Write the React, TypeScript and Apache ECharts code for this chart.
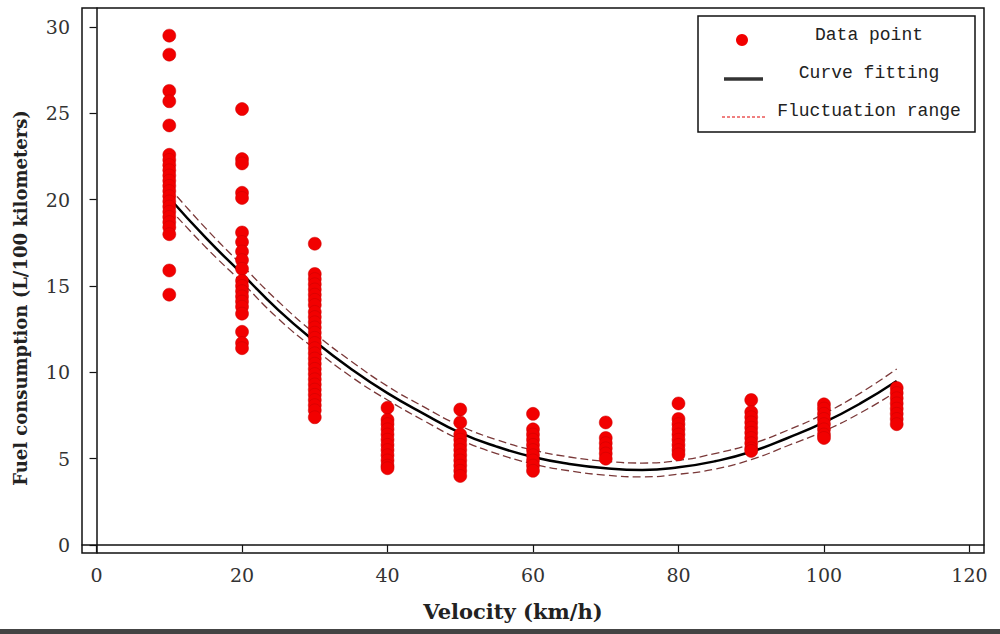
import React, { useEffect, useRef } from "react";
import * as echarts from "echarts";

// Measured speeds (km/h) and the fuel readings taken at each speed
const speeds = [10, 20, 30, 40, 50, 60, 70, 80, 90, 100, 110];

const fuel10 = [29.5, 28.4, 26.3, 25.7, 24.3, 22.6, 22.3, 22.0, 21.7, 21.4, 21.1, 20.8, 20.5, 20.2, 19.9, 19.6, 19.3, 19.0, 18.7, 18.4, 18.0, 15.9, 14.5];
const fuel20 = [25.25, 22.35, 22.1, 20.4, 20.1, 18.1, 17.55, 17.0, 16.5, 16.0, 15.3, 15.0, 14.7, 14.4, 14.1, 13.8, 13.4, 12.35, 11.7, 11.4];
const fuel30 = [17.45, 15.7, 15.4, 15.1, 14.8, 14.5, 14.2, 13.9, 13.5, 13.2, 12.9, 12.6, 12.3, 12.0, 11.7, 11.4, 11.1, 10.8, 10.5, 10.2, 9.9, 9.6, 9.3, 9.0, 8.7, 8.4, 8.1, 7.8, 7.4];
const fuel40 = [7.95, 7.25, 7.0, 6.7, 6.4, 6.1, 5.8, 5.5, 5.2, 4.9, 4.6, 4.45];
const fuel50 = [7.85, 7.1, 6.4, 6.1, 5.8, 5.5, 5.2, 4.9, 4.6, 4.3, 4.0];
const fuel60 = [7.6, 6.7, 6.4, 6.1, 5.8, 5.5, 5.2, 4.9, 4.6, 4.3];
const fuel70 = [7.1, 6.2, 5.9, 5.6, 5.3, 5.0];
const fuel80 = [8.2, 7.3, 7.0, 6.7, 6.4, 6.1, 5.8, 5.5, 5.25];
const fuel90 = [8.4, 7.7, 7.4, 7.1, 6.8, 6.5, 6.2, 5.9, 5.6, 5.45];
const fuel100 = [8.15, 7.9, 7.6, 7.3, 7.0, 6.7, 6.4, 6.2];
const fuel110 = [9.1, 8.8, 8.5, 8.2, 7.9, 7.6, 7.3, 7.0];

const fuelBySpeed = [fuel10, fuel20, fuel30, fuel40, fuel50, fuel60, fuel70, fuel80, fuel90, fuel100, fuel110];

// Fitted curve and its fluctuation band
const curveSpeeds = [10, 15, 20, 25, 30, 35, 40, 45, 50, 55, 60, 65, 70, 75, 80, 85, 90, 95, 100, 105, 110];
const curveFit = [20.1, 17.8, 15.7, 13.6, 11.8, 10.2, 8.8, 7.6, 6.5, 5.7, 5.1, 4.7, 4.45, 4.35, 4.5, 4.85, 5.4, 6.2, 7.1, 8.2, 9.5];
const curveUpper = [20.7, 18.35, 16.2, 14.1, 12.25, 10.65, 9.2, 8.0, 6.9, 6.1, 5.5, 5.1, 4.85, 4.75, 4.9, 5.3, 5.85, 6.65, 7.6, 8.8, 10.2];
const curveLower = [19.5, 17.25, 15.2, 13.1, 11.35, 9.75, 8.4, 7.2, 6.1, 5.3, 4.7, 4.3, 4.05, 3.95, 4.1, 4.4, 4.95, 5.75, 6.6, 7.65, 8.9];

const xTicks = [0, 20, 40, 60, 80, 100, 120];
const yTicks = [0, 5, 10, 15, 20, 25, 30];

const legendLabels = ["Data point", "Curve fitting", "Fluctuation range"];

const SERIF = "'DejaVu Serif', 'Liberation Serif', serif";
const MONO = "'Liberation Mono', 'DejaVu Sans Mono', monospace";

export default function App() {
  const ref = useRef<HTMLDivElement>(null);

  useEffect(() => {
    if (!ref.current) return;
    const chart = echarts.init(ref.current, undefined, { renderer: "svg" });

    const points: number[][] = [];
    speeds.forEach((s, i) => fuelBySpeed[i].forEach((v) => points.push([s, v])));

    const pair = (ys: number[]) => curveSpeeds.map((x, i) => [x, ys[i]]);

    chart.setOption({
      animation: false,
      backgroundColor: "#ffffff",
      grid: {
        left: 82,
        right: 16,
        top: 8,
        bottom: 81,
        show: true,
        borderColor: "#111",
        borderWidth: 1.5,
        backgroundColor: "transparent",
      },
      xAxis: {
        type: "value",
        min: -2,
        max: 122,
        splitLine: { show: false },
        axisLine: { show: true, lineStyle: { color: "#111", width: 1.5 } },
        axisTick: {
          show: true,
          customValues: xTicks,
          length: 7,
          lineStyle: { color: "#111", width: 1.2 },
        },
        axisLabel: {
          customValues: xTicks,
          fontFamily: SERIF,
          fontSize: 19,
          color: "#333",
          margin: 12,
        },
      },
      yAxis: {
        type: "value",
        min: -0.46,
        max: 31.1,
        splitLine: { show: false },
        axisLine: { show: true, lineStyle: { color: "#111", width: 1.5 } },
        axisTick: {
          show: true,
          customValues: yTicks,
          length: 7,
          lineStyle: { color: "#111", width: 1.2 },
        },
        axisLabel: {
          customValues: yTicks,
          fontFamily: SERIF,
          fontSize: 19,
          color: "#333",
          margin: 12,
        },
      },
      series: [
        {
          name: "Fluctuation upper",
          type: "line",
          data: pair(curveUpper),
          smooth: true,
          showSymbol: false,
          lineStyle: { color: "#7a3838", width: 1.3, type: [8, 4] },
          z: 2,
        },
        {
          name: "Fluctuation lower",
          type: "line",
          data: pair(curveLower),
          smooth: true,
          showSymbol: false,
          lineStyle: { color: "#7a3838", width: 1.3, type: [8, 4] },
          z: 2,
        },
        {
          name: "Curve fitting",
          type: "line",
          data: pair(curveFit),
          smooth: true,
          showSymbol: false,
          lineStyle: { color: "#000", width: 2.5 },
          z: 3,
        },
        {
          name: "Data point",
          type: "scatter",
          data: points,
          symbol: "circle",
          symbolSize: 13,
          itemStyle: { color: "#f20000", borderColor: "#c80000", borderWidth: 0.5, opacity: 1 },
          z: 4,
        },
      ],
      graphic: [
        {
          type: "text",
          x: 513,
          y: 611,
          style: {
            text: "Velocity (km/h)",
            font: `bold 21px ${SERIF}`,
            fill: "#222",
            align: "center",
            verticalAlign: "middle",
          },
        },
        {
          type: "text",
          x: 20,
          y: 298,
          rotation: Math.PI / 2,
          style: {
            text: "Fuel consumption (L/100 kilometers)",
            font: `bold 18px ${SERIF}`,
            fill: "#222",
            align: "center",
            verticalAlign: "middle",
          },
        },
        {
          type: "rect",
          shape: { x: 698, y: 16, width: 277, height: 116 },
          style: { fill: "#fff", stroke: "#111", lineWidth: 1.5 },
          z: 10,
        },
        {
          type: "circle",
          shape: { cx: 742, cy: 40, r: 6 },
          style: { fill: "#f20000" },
          z: 11,
        },
        {
          type: "line",
          shape: { x1: 724, y1: 79, x2: 763, y2: 79 },
          style: { stroke: "#333", lineWidth: 3.5 },
          z: 11,
        },
        {
          type: "line",
          shape: { x1: 722, y1: 117, x2: 765, y2: 117 },
          style: { stroke: "#e00000", lineWidth: 1, lineDash: [3, 2] },
          z: 11,
        },
        ...legendLabels.map((t, i) => ({
          type: "text",
          x: 869,
          y: 35 + i * 38,
          z: 11,
          style: {
            text: t,
            font: `18px ${MONO}`,
            fill: "#222",
            align: "center",
            verticalAlign: "middle",
          },
        })),
        {
          type: "rect",
          shape: { x: 0, y: 629, width: 1000, height: 5 },
          style: { fill: "#444" },
        },
      ],
    });

    return () => chart.dispose();
  }, []);

  return (
    <div
      ref={ref}
      style={{ position: "fixed", left: 0, top: 0, width: 1000, height: 634 }}
    />
  );
}
